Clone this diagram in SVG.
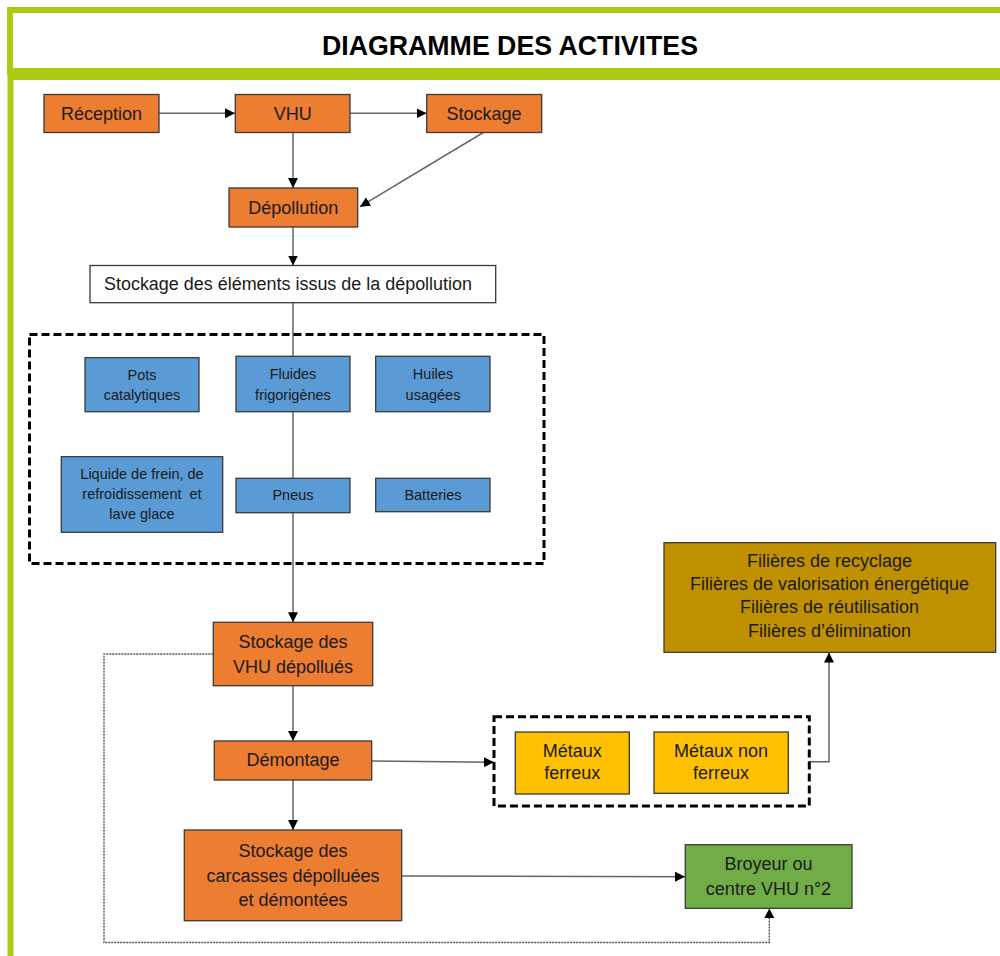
<svg xmlns="http://www.w3.org/2000/svg" width="1000" height="956" viewBox="0 0 1000 956">
<defs>
<marker id="arr" markerUnits="userSpaceOnUse" markerWidth="10" markerHeight="10" refX="10" refY="5" orient="auto">
<path d="M0,0 L10,5 L0,10 z" fill="#000"/>
</marker>
<style>
.frame{fill:none;stroke:#AACB12;stroke-width:6}
.t{font-family:"Liberation Sans",Arial,sans-serif;fill:#1a1a1a;text-anchor:middle}
.title{font-family:"Liberation Sans",Arial,sans-serif;font-weight:bold;font-size:28px;fill:#000;text-anchor:middle}
.m{font-size:18px}
.s{font-size:14.5px}
.or{fill:#ED7D31;stroke:#3a3a3a;stroke-width:1.3}
.bl{fill:#5B9BD5;stroke:#3a3a3a;stroke-width:1.3}
.ye{fill:#FFC000;stroke:#3a3a3a;stroke-width:1.3}
.go{fill:#BF9000;stroke:#3a3a3a;stroke-width:1.3}
.gr{fill:#70AD47;stroke:#3a3a3a;stroke-width:1.3}
.wh{fill:#fff;stroke:#3a3a3a;stroke-width:1.3}
.dash{fill:none;stroke:#000;stroke-width:3;stroke-dasharray:8 4}
.c{fill:none;stroke:#666;stroke-width:1.5}
.ca{fill:none;stroke:#666;stroke-width:1.5;marker-end:url(#arr)}
.dot{fill:none;stroke:#555;stroke-width:1.4;stroke-dasharray:2 1}
</style>
</defs>
<rect width="1000" height="956" fill="#fff"/>

<g id="frame">
<rect class="frame" x="10" y="10" width="1000" height="61"/>
<path class="frame" d="M10.5 956 V77 H1006"/>
<text class="title" x="510" y="55" textLength="376" lengthAdjust="spacingAndGlyphs">DIAGRAMME DES ACTIVITES</text>
</g>

<g id="connectors">
<path class="ca" d="M159 113.3 H235"/>
<path class="ca" d="M350 113.3 H426.5"/>
<path class="ca" d="M293 132.5 V188"/>
<path class="ca" d="M483.3 132.5 L360 206.7"/>
<path class="ca" d="M293 227 V265.5"/>
<path class="ca" d="M293 303 V622.3"/>
<path class="ca" d="M293 686 V741"/>
<path class="ca" d="M293 780 V830"/>
<path class="ca" d="M372 761 L494 762.3"/>
<path class="ca" d="M809 761.7 H829 V652.5"/>
<path class="ca" d="M402 876 L685 876.7"/>
<path class="dot" d="M213.3 654 H104 V942.5 H769.3 V918"/>
<path d="M764.3 918 L769.3 908.5 L774.3 918 z" fill="#000"/>
</g>

<g id="reception">
<rect class="or" x="44" y="94.5" width="115" height="38"/>
<text class="t m" x="101.5" y="119.5">Réception</text>
</g>
<g id="vhu">
<rect class="or" x="235.3" y="94.5" width="114.7" height="38"/>
<text class="t m" x="292.7" y="119.5">VHU</text>
</g>
<g id="stockage">
<rect class="or" x="426.7" y="94.5" width="115" height="38"/>
<text class="t m" x="484" y="119.5">Stockage</text>
</g>
<g id="depollution">
<rect class="or" x="229" y="188" width="128.7" height="39"/>
<text class="t m" x="293.3" y="213.5">Dépollution</text>
</g>
<g id="stockage-elements">
<rect class="wh" x="90" y="265.5" width="405.7" height="37.2"/>
<text class="t" x="288" y="290" font-size="18" textLength="368" lengthAdjust="spacingAndGlyphs">Stockage des éléments issus de la dépollution</text>
</g>

<g id="groupe-elements">
<rect class="dash" x="29.5" y="334.5" width="514.5" height="229"/>
</g>
<g id="pots">
<rect class="bl" x="85" y="357.7" width="114" height="54"/>
<text class="t s" x="142" y="379.5">Pots</text>
<text class="t s" x="142" y="400">catalytiques</text>
</g>
<g id="fluides">
<rect class="bl" x="236" y="356.3" width="114" height="55.4"/>
<text class="t s" x="293" y="379">Fluides</text>
<text class="t s" x="293" y="399.5">frigorigènes</text>
</g>
<g id="huiles">
<rect class="bl" x="375.7" y="356.3" width="114.3" height="55.4"/>
<text class="t s" x="433" y="379">Huiles</text>
<text class="t s" x="433" y="399.5">usagées</text>
</g>
<g id="liquide">
<rect class="bl" x="61.3" y="456.7" width="161.4" height="75.6"/>
<text class="t s" x="142" y="479">Liquide de frein, de</text>
<text class="t s" x="142" y="499.3" xml:space="preserve">refroidissement  et</text>
<text class="t s" x="142" y="519.3">lave glace</text>
</g>
<g id="pneus">
<rect class="bl" x="236" y="478.3" width="114" height="34.4"/>
<text class="t s" x="293" y="500">Pneus</text>
</g>
<g id="batteries">
<rect class="bl" x="375.7" y="478.3" width="114.3" height="33.4"/>
<text class="t s" x="433" y="500">Batteries</text>
</g>

<g id="stockage-vhu-depollues">
<rect class="or" x="213.3" y="622.3" width="159.4" height="63.4"/>
<text class="t m" x="293" y="647.7">Stockage des</text>
<text class="t m" x="293" y="672.7">VHU dépollués</text>
</g>
<g id="demontage">
<rect class="or" x="214.3" y="741" width="157.4" height="39"/>
<text class="t m" x="293" y="766">Démontage</text>
</g>
<g id="stockage-carcasses">
<rect class="or" x="184.3" y="830" width="217.4" height="90.7"/>
<text class="t m" x="293" y="856.7">Stockage des</text>
<text class="t m" x="293" y="881.7">carcasses dépolluées</text>
<text class="t m" x="293" y="906">et démontées</text>
</g>

<g id="groupe-metaux">
<rect class="dash" x="494" y="716.7" width="315.3" height="89.3"/>
</g>
<g id="metaux-ferreux">
<rect class="ye" x="515.3" y="732" width="114" height="62"/>
<text class="t m" x="572.3" y="756.7">Métaux</text>
<text class="t m" x="572.3" y="779.3">ferreux</text>
</g>
<g id="metaux-non-ferreux">
<rect class="ye" x="654" y="732" width="134.3" height="61.3"/>
<text class="t m" x="721" y="756.7">Métaux non</text>
<text class="t m" x="721" y="779.3">ferreux</text>
</g>

<g id="filieres">
<rect class="go" x="664" y="542.7" width="331.7" height="109.6"/>
<text class="t m" x="829.5" y="566.7">Filières de recyclage</text>
<text class="t m" x="829.5" y="590">Filières de valorisation énergétique</text>
<text class="t m" x="829.5" y="613.3">Filières de réutilisation</text>
<text class="t m" x="829.5" y="637.3">Filières d’élimination</text>
</g>

<g id="broyeur">
<rect class="gr" x="685.3" y="844.7" width="166.7" height="63.6"/>
<text class="t m" x="768.5" y="870">Broyeur ou</text>
<text class="t m" x="768.5" y="895">centre VHU n°2</text>
</g>
</svg>
